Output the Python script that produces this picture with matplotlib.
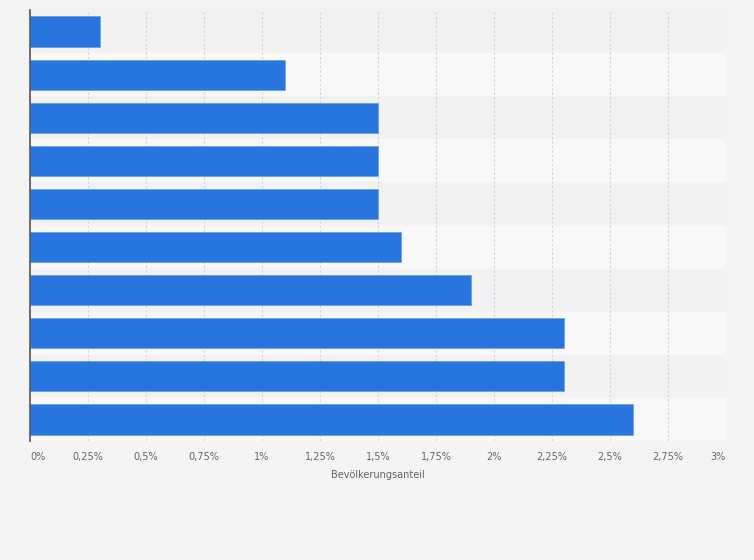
import numpy as np
import matplotlib.pyplot as plt
from matplotlib.ticker import FixedLocator

# values, top to bottom (share of population, %)
anteil = [0.3, 1.1, 1.5, 1.5, 1.5, 1.6, 1.9, 2.3, 2.3, 2.6]
x_ticks = [0, 0.25, 0.5, 0.75, 1, 1.25, 1.5, 1.75, 2, 2.25, 2.5, 2.75, 3]
x_tick_labels = ['0%', '0,25%', '0,5%', '0,75%', '1%', '1,25%', '1,5%',
                 '1,75%', '2%', '2,25%', '2,5%', '2,75%', '3%']
x_label = 'Bevölkerungsanteil'

bg = '#f4f4f4'
fig = plt.figure(figsize=(7.54, 5.6), dpi=100, facecolor=bg)
ax = fig.add_axes([30 / 754, 1 - 441 / 560, 696 / 754, 431 / 560])
ax.set_facecolor(bg)

n = len(anteil)
pos = np.arange(n)

# alternating row bands
for i in pos:
    ax.axhspan(i - 0.5, i + 0.5, color='#f2f2f2' if i % 2 == 0 else '#f8f8f8',
               zorder=0, lw=0)

ax.barh(pos, anteil, height=0.7, color='#2876dd', edgecolor='#5b97e6',
        linewidth=0.4, zorder=3)

ax.set_ylim(n - 0.5, -0.5)
ax.set_xlim(0, 3)
ax.xaxis.set_major_locator(FixedLocator(x_ticks))
ax.set_xticklabels(x_tick_labels, fontsize=7, color='#666666')
labels = ax.get_xticklabels()
labels[0].set_ha('left')
labels[-1].set_ha('right')
ax.set_yticks([])
ax.tick_params(axis='x', length=0, pad=8)
ax.grid(axis='x', color='#d2d2d2', linestyle=(0, (2, 2)), linewidth=0.8, zorder=1)

for s in ['top', 'right', 'bottom']:
    ax.spines[s].set_visible(False)
ax.spines['left'].set_color('#555555')
ax.spines['left'].set_linewidth(1.2)
ax.spines['left'].set_zorder(4)

ax.set_xlabel(x_label, fontsize=7, color='#666666', labelpad=6)

fig.savefig('out.png', dpi=100, facecolor=bg)
